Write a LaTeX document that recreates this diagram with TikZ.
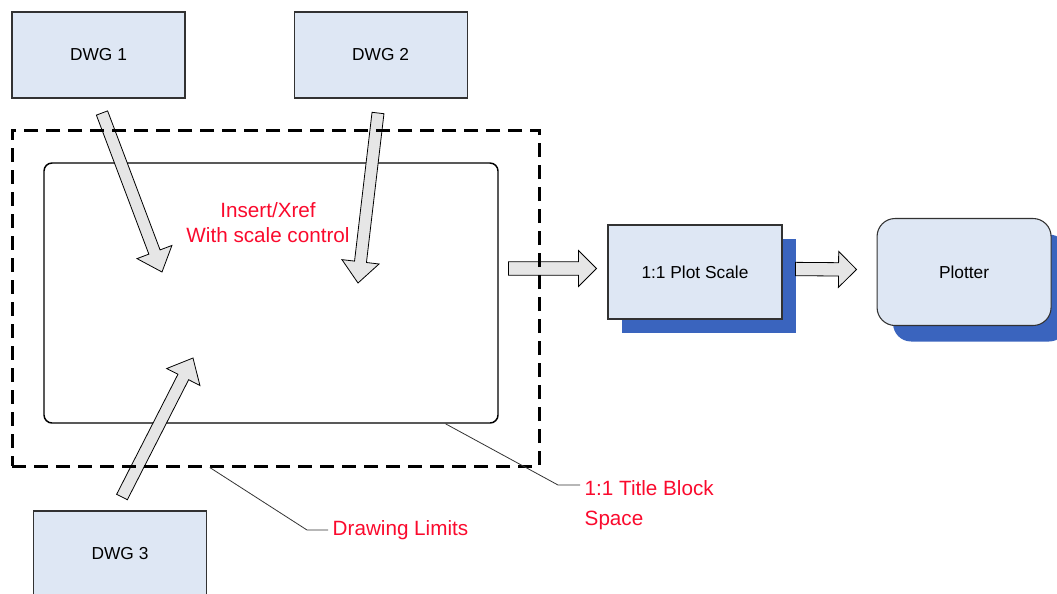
\documentclass[tikz,border=0pt]{standalone}
\usepackage{fontspec}
\setmainfont{Liberation Sans}
\usetikzlibrary{positioning,calc,shadows}

\definecolor{boxblue}{RGB}{222,231,244}
\definecolor{boxline}{RGB}{50,50,50}
\definecolor{shadowblue}{RGB}{58,100,190}
\definecolor{arrowgray}{RGB}{230,230,230}
\definecolor{labelred}{RGB}{250,10,45}

% hollow block arrow: tail, tip, half shaft, half head, head length
\newcommand{\blockarrow}[5]{%
  \draw[arrowbody] let \p1 = ($(#2)-(#1)$), \n1 = {atan2(\y1,\x1)}, \n2 = {veclen(\x1,\y1)} in
    ([shift={(#1)}, rotate=\n1] 0pt, #3) -- ([shift={(#1)}, rotate=\n1] \n2-#5, #3)
    -- ([shift={(#1)}, rotate=\n1] \n2-#5, #4) -- (#2)
    -- ([shift={(#1)}, rotate=\n1] \n2-#5, -#4) -- ([shift={(#1)}, rotate=\n1] \n2-#5, -#3)
    -- ([shift={(#1)}, rotate=\n1] 0pt, -#3) -- cycle;}

\begin{document}
\begin{tikzpicture}[
		x=0.75pt, y=-0.75pt,
		dwgbox/.style = {
			draw=boxline, fill=boxblue, line width=0.8pt,
			minimum width=129.75pt, minimum height=64.5pt,
			font=\fontsize{13}{15}\selectfont
		},
		plotbox/.style = {
			draw=boxline, fill=boxblue, line width=0.8pt,
			minimum width=130.5pt, minimum height=70.5pt,
			font=\fontsize{13}{15}\selectfont
		},
		limitsbox/.style = {
			draw=black, line width=2.25pt, dash pattern=on 10.5pt off 6pt,
			minimum width=395.25pt, minimum height=252pt
		},
		sheetbox/.style = {
			draw=black, line width=1.1pt, rounded corners=6pt,
			minimum width=340.5pt, minimum height=195pt
		},
		redtext/.style = {text=labelred, font=\fontsize{15.5}{19}\selectfont},
		arrowbody/.style = {draw=black, fill=arrowgray, line width=0.6pt},
		leader/.style = {draw=black!80, line width=0.6pt}
		]
		\useasboundingbox (0,0) rectangle (1057,593);
		\clip (0,0) rectangle (1057,593);

		% drawings to bring in
		\node [dwgbox] (dwg1) at (98.5,55) {DWG 1};
		\node [dwgbox, right=81pt of dwg1] (dwg2) {DWG 2};
		\node [dwgbox] (dwg3) at (120,554) {DWG 3};

		% output chain
		\node [plotbox, drop shadow={shadow xshift=10.5pt, shadow yshift=-10.5pt, fill=shadowblue, opacity=1}] (plotscale) at (695,272) {1:1 Plot Scale};
		\node [plotbox, rounded corners=13.5pt, minimum height=80.25pt,
			drop shadow={shadow xshift=12pt, shadow yshift=-12pt, fill=shadowblue, opacity=1},
			right=70.5pt of plotscale] (plotter) {Plotter};

		% sheet
		\node [sheetbox] (sheet) at (271,293) {};
		\node [redtext, align=center] (insert) at (268,222.5) {Insert/Xref\\With scale control};

		\coordinate (a1s) at (102,113);
		\coordinate (a1e) at (162,272);
		\coordinate (a2s) at (378,113);
		\coordinate (a2e) at (358,283);
		\coordinate (a3s) at (122,497);
		\coordinate (a3e) at (193,358);
		\coordinate (a4s) at ($(plotscale.west)+(-99,-3.5)$);
		\coordinate (a4e) at ($(plotscale.west)+(-11,-3.5)$);
		\coordinate (a5s) at ($(plotscale.east)+(13,-3)$);
		\coordinate (a5e) at ($(plotter.west)+(-20,-2.5)$);

		\foreach \s/\e in {a1s/a1e, a2s/a2e, a3s/a3e}
			\blockarrow{\s}{\e}{4.5pt}{14pt}{16pt};
		\blockarrow{a4s}{a4e}{5pt}{13.5pt}{13.5pt}
		\blockarrow{a5s}{a5e}{5pt}{13.5pt}{13.5pt}

		\node [limitsbox] (limits) at (275.5,298) {};

		% callouts
		\coordinate (dlbend) at (307,530);
		\node [redtext, right=15.75pt of dlbend] (dlimits) {Drawing Limits};
		\draw [leader] ($(limits.south west)!0.376!(limits.south east)$) -- (dlbend) -- (dlimits.west);

		\coordinate (tbbend) at (558,485);
		\node [redtext, align=left, anchor=west] (tblock) at (580,505) {1:1 Title Block\\[3pt]Space};
		\draw [leader] ($(sheet.south west)!0.883!(sheet.south east)$) -- (tbbend) -- (tbbend -| tblock.west);
	\end{tikzpicture}
\end{document}
